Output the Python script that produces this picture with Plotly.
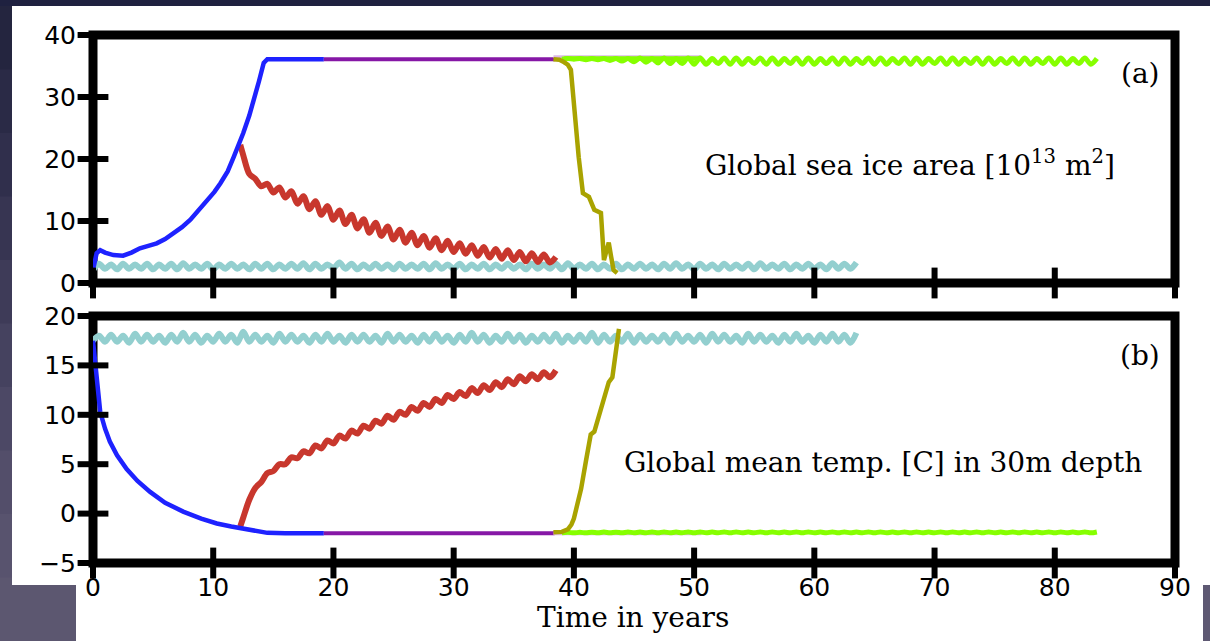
import plotly.graph_objects as go

W, H = 1210, 641

# ---------------- data (time in years) ----------------
# Seasonal series are stored as yearly troughs (at whole years) and crests (half a year later)
cyan_a_trough = [2.1, 2.3, 2.2, 2.3, 2.3, 2.2, 2.3, 2.2, 2.3, 2.3, 2.2, 2.3, 2.3, 2.2, 2.3, 2.2,
                 2.3, 2.3, 2.2, 2.3, 2.4, 2.3, 2.2, 2.3, 2.3, 2.2, 2.3, 2.3, 2.2, 2.3, 2.3, 2.2,
                 2.3, 2.2, 2.3, 2.3, 2.2, 2.3, 2.3, 2.2, 2.3, 2.3, 2.2, 2.3, 2.2, 2.3, 2.3, 2.2,
                 2.3, 2.3, 2.2, 2.3, 2.2, 2.3, 2.3, 2.2, 2.3, 2.3, 2.2, 2.3, 2.3, 2.2, 2.3, 2.3]
cyan_a_crest = [3.1, 3.0, 3.1, 3.0, 3.1, 3.0, 3.1, 3.2, 3.0, 3.1, 3.0, 3.1, 3.0, 3.1, 3.1, 3.0,
                3.1, 3.2, 3.1, 3.0, 3.3, 3.1, 3.0, 3.1, 3.0, 3.1, 3.0, 3.1, 3.2, 3.0, 3.1, 3.0,
                3.1, 3.0, 3.1, 3.0, 3.1, 3.0, 3.1, 3.2, 3.0, 3.1, 3.0, 3.1, 3.0, 3.1, 3.0, 3.1,
                3.2, 3.0, 3.1, 3.0, 3.1, 3.0, 3.1, 3.2, 3.0, 3.1, 3.0, 3.1, 3.0, 3.2, 3.1, 3.3]

cyan_b_trough = [17.5, 17.4, 17.4, 17.3, 17.4, 17.4, 17.3, 17.4, 17.4, 17.3, 17.4, 17.4, 17.3, 17.4, 17.4, 17.3,
                 17.4, 17.4, 17.3, 17.4, 17.4, 17.3, 17.4, 17.4, 17.3, 17.4, 17.4, 17.3, 17.4, 17.4, 17.3, 17.4,
                 17.4, 17.3, 17.4, 17.4, 17.3, 17.4, 17.4, 17.3, 17.4, 17.4, 17.3, 17.4, 17.4, 17.3, 17.4, 17.4,
                 17.3, 17.4, 17.4, 17.3, 17.4, 17.4, 17.3, 17.4, 17.4, 17.3, 17.4, 17.4, 17.3, 17.4, 17.4, 17.3]
cyan_b_crest = [18.0, 18.1, 18.0, 18.2, 18.1, 18.0, 18.1, 18.3, 18.1, 18.0, 18.2, 18.1, 18.4, 18.1, 18.0, 18.2,
                18.1, 18.0, 18.1, 18.2, 18.0, 18.1, 18.1, 18.0, 18.2, 18.1, 18.0, 18.1, 18.2, 18.0, 18.1, 18.3,
                18.1, 18.0, 18.2, 18.1, 18.0, 18.1, 18.2, 18.0, 18.1, 18.3, 18.1, 18.0, 18.2, 18.1, 18.0, 18.1,
                18.2, 18.0, 18.1, 18.2, 18.1, 18.0, 18.2, 18.1, 18.0, 18.1, 18.2, 18.0, 18.1, 18.2, 18.1, 18.3]

green_a_trough = [36.1, 36.1, 36.0, 36.0, 35.9, 35.8, 35.7, 35.6, 35.5, 35.4, 35.4, 35.3, 35.3, 35.4, 35.3,
                  35.3, 35.4, 35.3, 35.3, 35.4, 35.3, 35.3, 35.4, 35.3, 35.3, 35.4, 35.3, 35.3, 35.4, 35.3,
                  35.3, 35.4, 35.3, 35.3, 35.4, 35.3, 35.3, 35.4, 35.3, 35.3, 35.4, 35.3, 35.3, 35.4, 35.3]
green_a_crest = [36.2, 36.2, 36.2, 36.2, 36.2, 36.2, 36.3, 36.2, 36.3, 36.2, 36.3, 36.3, 36.2, 36.3, 36.3,
                 36.2, 36.3, 36.3, 36.2, 36.3, 36.3, 36.2, 36.3, 36.3, 36.2, 36.3, 36.3, 36.2, 36.3, 36.3,
                 36.2, 36.3, 36.3, 36.2, 36.3, 36.3, 36.2, 36.3, 36.3, 36.2, 36.3, 36.3, 36.2, 36.3, 36.2]

green_b_trough = [-1.95, -1.95, -1.95, -1.95, -1.95, -1.95, -1.95, -1.95, -1.95, -1.95, -1.95, -1.95, -1.95, -1.95, -1.95,
                  -1.95, -1.95, -1.95, -1.95, -1.95, -1.95, -1.95, -1.95, -1.95, -1.95, -1.95, -1.95, -1.95, -1.95, -1.95,
                  -1.95, -1.95, -1.95, -1.95, -1.95, -1.95, -1.95, -1.95, -1.95, -1.95, -1.95, -1.95, -1.95, -1.95, -1.95]
green_b_crest = [-1.9, -1.9, -1.88, -1.87, -1.88, -1.86, -1.87, -1.86, -1.86, -1.87, -1.86, -1.86, -1.87, -1.86, -1.86,
                 -1.87, -1.86, -1.86, -1.87, -1.86, -1.86, -1.87, -1.86, -1.86, -1.87, -1.86, -1.86, -1.87, -1.86, -1.86,
                 -1.87, -1.86, -1.86, -1.87, -1.86, -1.86, -1.87, -1.86, -1.86, -1.87, -1.86, -1.86, -1.87, -1.86, -1.86]

# red run: half-year samples from 12.25 to 38.5
red_years = [12.25, 12.5] + [13 + 0.5 * k for k in range(52)]
red_a = [22.3, 20.6, 17.6, 16.8, 15.6, 16.0, 14.6, 15.4, 13.8, 14.8, 12.8, 14.0, 11.9, 13.2, 11.0, 12.4,
         10.2, 11.7, 9.5, 11.0, 8.8, 10.3, 8.1, 9.7, 7.6, 9.1, 7.0, 8.6, 6.5, 8.1, 6.1, 7.6, 5.7, 7.2,
         5.3, 6.8, 5.0, 6.4, 4.7, 6.1, 4.4, 5.8, 4.1, 5.5, 3.9, 5.3, 3.7, 5.0, 3.5, 4.8, 3.4, 4.6, 3.3, 4.2]
red_b = [-1.3, -0.4, 1.4, 2.6, 3.2, 4.1, 4.3, 5.0, 5.0, 5.7, 5.6, 6.3, 6.1, 6.9, 6.6, 7.4, 7.1, 7.9,
         7.6, 8.4, 8.1, 8.9, 8.6, 9.4, 9.1, 9.9, 9.5, 10.3, 10.0, 10.8, 10.4, 11.2, 10.8, 11.6, 11.2,
         12.0, 11.6, 12.3, 11.9, 12.7, 12.2, 13.0, 12.5, 13.3, 12.8, 13.6, 13.1, 13.9, 13.4, 14.1,
         13.6, 14.3, 13.8, 14.5]

blue_a_years = [0, 0.3, 0.6, 1.0, 1.7, 2.5, 3.2, 3.9, 4.6, 5.3, 6.0, 6.7, 7.4, 8.1, 8.8, 9.5, 10.1,
                10.6, 11.2, 11.7, 12.1, 12.5, 13.0, 13.4, 13.8, 14.2, 14.5, 19.2]
blue_a = [2.1, 4.8, 5.3, 4.9, 4.5, 4.4, 4.9, 5.6, 6.0, 6.4, 7.1, 8.0, 9.0, 10.2, 11.7, 13.4, 14.7,
          16.1, 18.0, 20.3, 22.2, 24.2, 27.0, 29.5, 32.5, 35.5, 36.1, 36.1]
blue_b_years = [0, 0.15, 0.3, 0.6, 1.0, 1.4, 2.0, 2.8, 3.7, 4.75, 6.0, 7.5, 9.0, 10.3, 11.5, 12.8,
                13.6, 14.5, 16.0, 19.2]
blue_b = [17.5, 15.5, 13.6, 10.3, 8.6, 7.3, 5.9, 4.5, 3.3, 2.2, 1.1, 0.2, -0.5, -1.0, -1.3, -1.6,
          -1.8, -1.95, -2.0, -2.0]

purple_years = [19.2, 38.4]
purple_a = [36.1, 36.1]
purple_b = [-2.0, -2.0]
faint_years = [38.3, 50.6]
faint_a = [36.5, 36.5]
faint_b = [-2.05, -2.05]
green_flat_years = [39.2, 50.6]
green_flat_a = [36.2, 36.2]

olive_a_years = [38.3, 38.8, 39.2, 39.5, 39.75, 40.0, 40.4, 40.75, 41.25, 41.7, 42.25, 42.5,
                 42.9, 43.1, 43.3, 43.6]
olive_a = [36.1, 36.0, 35.6, 35.2, 34.4, 28.4, 20.3, 14.5, 13.9, 11.8, 11.3, 3.7, 6.5, 4.2, 2.1, 1.6]
olive_b_years = [38.3, 39.0, 39.5, 39.8, 40.0, 40.3, 40.6, 41.0, 41.4, 41.7, 42.2, 42.8, 42.9,
                 43.2, 43.75]
olive_b = [-1.9, -1.85, -1.6, -1.1, -0.5, 0.8, 2.5, 5.3, 8.0, 8.3, 10.5, 13.0, 13.3, 13.8, 18.7]

x_ticks = [0, 10, 20, 30, 40, 50, 60, 70, 80, 90]
ya_ticks = [0, 10, 20, 30, 40]
yb_ticks = [-5, 0, 5, 10, 15, 20]

COL = dict(cyan="#93cfcf", red="#c8372d", blue="#1e22ff", purple="#8617a6",
           faint="#dcb8e6", green="#86ff00", olive="#a9a300")


def seasonal(start, troughs, crests):
    xs, ys = [], []
    for i, (lo, hi) in enumerate(zip(troughs, crests)):
        xs += [start + i, start + i + 0.5]
        ys += [lo, hi]
    return xs, ys


# ---------------- figure ----------------
fig = go.Figure()


def line(x, y, color, width, xa, ya, smooth=False):
    fig.add_trace(go.Scatter(
        x=x, y=y, mode="lines", xaxis=xa, yaxis=ya, hoverinfo="skip",
        line=dict(color=color, width=width, shape="spline" if smooth else "linear",
                  smoothing=0.9 if smooth else None),
        showlegend=False))


for xa, ya, cy_lo, cy_hi, red, blue_x, blue_y, pur, fnt, g_lo, g_hi, ol_x, ol_y in [
    ("x", "y", cyan_a_trough, cyan_a_crest, red_a, blue_a_years, blue_a, purple_a, faint_a,
     green_a_trough, green_a_crest, olive_a_years, olive_a),
    ("x2", "y2", cyan_b_trough, cyan_b_crest, red_b, blue_b_years, blue_b, purple_b, faint_b,
     green_b_trough, green_b_crest, olive_b_years, olive_b),
]:
    cx, cyv = seasonal(0, cy_lo, cy_hi)
    line(cx, cyv, COL["cyan"], 6, xa, ya, smooth=True)
    line(red_years, red, COL["red"], 6, xa, ya, smooth=True)
    line(blue_x, blue_y, COL["blue"], 4.5, xa, ya)
    line(purple_years, pur, COL["purple"], 4, xa, ya)
    line(faint_years, fnt, COL["faint"], 3, xa, ya)
    gx, gy = seasonal(39, g_lo, g_hi)
    line(gx, gy, COL["green"], 5, xa, ya, smooth=True)
    if xa == "x":
        line(green_flat_years, green_flat_a, COL["green"], 4.5, xa, ya)
    line(ol_x, ol_y, COL["olive"], 4.5, xa, ya)

# tick marks crossing the frame on the bottom and left sides
tick_style = dict(mode="markers", hoverinfo="skip", showlegend=False, cliponaxis=False)
for xa, ya, ybottom, yt in [("x", "y", 0, ya_ticks), ("x2", "y2", -5, yb_ticks)]:
    fig.add_trace(go.Scatter(x=x_ticks, y=[ybottom] * len(x_ticks), xaxis=xa, yaxis=ya,
                             marker=dict(symbol="line-ns", size=22,
                                         line=dict(color="black", width=6)), **tick_style))
    fig.add_trace(go.Scatter(x=[0] * len(yt), y=yt, xaxis=xa, yaxis=ya,
                             marker=dict(symbol="line-ew", size=22,
                                         line=dict(color="black", width=6)), **tick_style))

# ---------------- layout ----------------
def px_x(v):
    return v / W


def px_y(v):
    return 1 - v / H


xdom = [px_x(93), px_x(1175)]
ya_dom = [px_y(283), px_y(35)]
yb_dom = [px_y(563), px_y(316)]

tickfont = dict(family="DejaVu Sans", size=25, color="black")
serif = dict(family="DejaVu Serif", size=28, color="black")

common_x = dict(range=[0, 90], domain=xdom, showgrid=False, zeroline=False, showline=False,
                ticks="", tickvals=x_ticks, fixedrange=True, automargin=False)
common_y = dict(showgrid=False, zeroline=False, showline=False, ticks="", fixedrange=True,
                tickfont=tickfont, ticklabelstandoff=16, automargin=False)

shapes = []


def rect(x0, y0, x1, y1, color):
    shapes.append(dict(type="rect", xref="paper", yref="paper", layer="below",
                       x0=px_x(x0), x1=px_x(x1), y0=px_y(y1), y1=px_y(y0),
                       fillcolor=color, line=dict(width=0)))


# slide backdrop: dark band on top, lightening strip on the left, white sheet
rect(0, 0, W, 6, "#1f2140")
left_band = ["#24253f", "#2a2a46", "#302f4c", "#373552", "#3e3b58", "#45425f",
             "#4c4865", "#534e6a", "#58536e", "#5c5770"]
step = (H - 6) / len(left_band)
for i, c in enumerate(left_band):
    rect(0, 6 + i * step, 12, 6 + (i + 1) * step + 1, c)
rect(0, 585, 76, H, "#5c5770")
rect(1203, 585, W, H, "#5e5973")
rect(12, 6, W, 585, "white")
rect(76, 585, 1203, H, "white")

# panel frames, kept beneath the curves
for xr, yr in [("x domain", "y domain"), ("x2 domain", "y2 domain")]:
    shapes.append(dict(type="rect", xref=xr, yref=yr, x0=0, x1=1, y0=0, y1=1, layer="below",
                       line=dict(color="black", width=9), fillcolor="rgba(0,0,0,0)"))

annotations = [
    dict(text="Global sea ice area [10<sup>13</sup> m<sup>2</sup>]", x=px_x(703), y=px_y(163),
         xanchor="left", yanchor="middle", font=serif),
    dict(text="Global mean temp. [C] in 30m depth", x=px_x(622), y=px_y(463),
         xanchor="left", yanchor="middle", font=serif),
    dict(text="(a)", x=px_x(1140), y=px_y(73), xanchor="center", yanchor="middle", font=serif),
    dict(text="(b)", x=px_x(1140), y=px_y(355), xanchor="center", yanchor="middle", font=serif),
    dict(text="Time in years", x=px_x(633), y=px_y(617), xanchor="center", yanchor="middle",
         font=serif),
]
for a in annotations:
    a.update(xref="paper", yref="paper", showarrow=False)

fig.update_layout(
    width=W, height=H, margin=dict(l=0, r=0, t=0, b=0, autoexpand=False),
    paper_bgcolor="#2a2a46", plot_bgcolor="white",
    xaxis=dict(common_x, anchor="y", showticklabels=False),
    yaxis=dict(common_y, domain=ya_dom, range=[0, 40], anchor="x", tickvals=ya_ticks),
    xaxis2=dict(common_x, anchor="y2", showticklabels=True, tickfont=tickfont,
                ticklabelstandoff=7),
    yaxis2=dict(common_y, domain=yb_dom, range=[-5, 20], anchor="x2", tickvals=yb_ticks),
    shapes=shapes, annotations=annotations,
)

fig.write_html("out.html", config=dict(displayModeBar=False))
